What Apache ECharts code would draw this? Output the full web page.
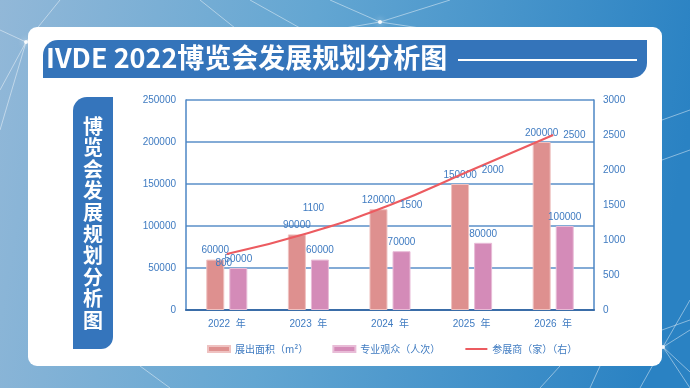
<!DOCTYPE html>
<html><head><meta charset="utf-8">
<script src="https://cdn.jsdelivr.net/npm/echarts@6/dist/echarts.min.js"></script>
<style>html,body{margin:0;padding:0;}#c{width:690px;height:388px;}</style>
</head><body><div id="c"></div>
<script>
const categories = ['2022', '2023', '2024', '2025', '2026'];
const areaValues = [60000, 90000, 120000, 150000, 200000];
const visitorValues = [50000, 60000, 70000, 80000, 100000];
const exhibitorValues = [800, 1100, 1500, 2000, 2500];
const seriesNames = ['展出面积（m²）', '专业观众（人次）', '参展商（家）（右）'];
const titleText = 'IVDE 2022博览会发展规划分析图';
const sideText = '博览会发展规划分析图';

const blue = '#3f7bc1';
const lineLabelStyles = [
  {position: 'bottom', distance: 4, offset: [-3, 0]},
  {position: 'top', distance: 20, offset: [5, 0]},
  {position: 'right', distance: 10},
  {position: 'right', distance: 10},
  {position: 'right', distance: 10}
];

const chart = echarts.init(document.getElementById('c'));
const bgLines = [
  [0, 30, 26, 42], [26, 42, 0, 90], [26, 42, 60, 0], [26, 42, 0, 130], [26, 42, 110, 28],
  [200, 0, 235, 28], [250, 0, 300, 28], [380, 22, 330, 0], [380, 22, 345, 28], [380, 22, 450, 0], [380, 22, 420, 28],
  [663, 347, 690, 300], [663, 347, 690, 330], [663, 347, 690, 372], [663, 347, 640, 388], [663, 347, 690, 388],
  [662, 160, 690, 150], [662, 330, 690, 320], [140, 366, 170, 388], [560, 366, 540, 388], [600, 366, 590, 388],
  [662, 120, 690, 110]
];
const graphics = [];
bgLines.forEach(l => graphics.push({type: 'line', z: -10, shape: {x1: l[0], y1: l[1], x2: l[2], y2: l[3]},
  style: {stroke: 'rgba(255,255,255,0.45)', lineWidth: 1}}));
graphics.push({type: 'circle', z: -9, shape: {cx: 26, cy: 42, r: 2}, style: {fill: 'rgba(255,255,255,0.9)', shadowBlur: 6, shadowColor: '#fff'}});
graphics.push({type: 'circle', z: -9, shape: {cx: 380, cy: 22, r: 2}, style: {fill: 'rgba(255,255,255,0.9)', shadowBlur: 6, shadowColor: '#fff'}});
graphics.push({type: 'circle', z: -9, shape: {cx: 663, cy: 347, r: 2}, style: {fill: 'rgba(255,255,255,0.9)', shadowBlur: 6, shadowColor: '#fff'}});
graphics.push({type: 'rect', z: -5, shape: {x: 28, y: 27, width: 634, height: 339, r: 9}, style: {fill: '#ffffff'}});
graphics.push({type: 'rect', z: -4, shape: {x: 43, y: 40, width: 604, height: 38, r: [15, 0, 15, 0]}, style: {fill: '#3474ba'}});
graphics.push({type: 'text', z: -3, left: 46, top: 44, style: {text: titleText, fill: '#ffffff',
  font: 'bold 27px "Noto Sans CJK SC", "Noto Sans", sans-serif'}});
graphics.push({type: 'line', z: -3, shape: {x1: 458, y1: 60, x2: 637, y2: 60}, style: {stroke: '#ffffff', lineWidth: 2}});
graphics.push({type: 'rect', z: -4, shape: {x: 73, y: 97, width: 40, height: 252, r: [14, 0, 12, 0]}, style: {fill: '#3575bc'}});
sideText.split('').forEach((ch, i) => graphics.push({type: 'text', z: -3, x: 93, y: 126 + i * 21.6,
  style: {text: ch, fill: '#ffffff', font: 'bold 20px "Noto Sans CJK SC", sans-serif', align: 'center', verticalAlign: 'middle'}}));

chart.setOption({
  backgroundColor: {type: 'linear', x: 0, y: 0, x2: 1, y2: 0.3, colorStops: [
    {offset: 0, color: '#92b8d8'}, {offset: 0.45, color: '#63a6d2'}, {offset: 1, color: '#2a82c3'}]},
  textStyle: {fontFamily: '"Liberation Sans", "Noto Sans CJK SC", sans-serif'},
  graphic: graphics,
  grid: {left: 186, right: 96, top: 100, bottom: 78},
  legend: {
    left: 202, top: 339, itemWidth: 22, itemHeight: 6, itemGap: 24,
    textStyle: {color: blue, fontSize: 10, fontFamily: '"Noto Sans CJK SC", sans-serif'},
    data: [{name: seriesNames[0], icon: 'rect'}, {name: seriesNames[1], icon: 'rect'},
      {name: seriesNames[2], itemStyle: {opacity: 0}}]
  },
  xAxis: {
    type: 'category', data: categories,
    axisLine: {lineStyle: {color: '#3a6da8', width: 2}},
    axisTick: {show: false},
    axisLabel: {color: blue, fontSize: 10, margin: 9, formatter: v => v + '  年',
      fontFamily: '"Liberation Sans", "Noto Sans CJK SC", sans-serif'}
  },
  yAxis: [
    {type: 'value', min: 0, max: 250000, interval: 50000,
      axisLine: {show: true, lineStyle: {color: '#4d86c4', width: 1.5}},
      axisTick: {show: false},
      splitLine: {lineStyle: {color: '#5a8fc9', width: 1.5}},
      axisLabel: {color: blue, fontSize: 10, margin: 10, formatter: v => String(v)}},
    {type: 'value', min: 0, max: 3000, interval: 500,
      axisLine: {show: true, lineStyle: {color: '#4d86c4', width: 1.5}},
      axisTick: {show: false}, splitLine: {show: false},
      axisLabel: {color: blue, fontSize: 10, margin: 9, formatter: v => String(v)}}
  ],
  series: [
    {name: seriesNames[0], type: 'bar', data: areaValues, barWidth: 18, barGap: '28%',
      itemStyle: {color: '#de908f', borderColor: '#efc2c1', borderWidth: 1},
      label: {show: true, position: 'top', distance: 4, color: blue, fontSize: 10}},
    {name: seriesNames[1], type: 'bar', data: visitorValues, barWidth: 18,
      itemStyle: {color: '#d48bb8', borderColor: '#e8bcd7', borderWidth: 1},
      label: {show: true, position: 'top', distance: 4, color: blue, fontSize: 10}},
    {name: seriesNames[2], type: 'line', yAxisIndex: 1, smooth: true, symbol: 'circle', symbolSize: 0.1,
      showSymbol: true,
      lineStyle: {color: '#ec5b60', width: 2}, itemStyle: {color: '#ec5b60'}, z: 5,
      data: exhibitorValues.map((v, i) => ({value: v, label: Object.assign({show: true, color: blue, fontSize: 10}, lineLabelStyles[i])}))}
  ]
});
</script></body></html>
